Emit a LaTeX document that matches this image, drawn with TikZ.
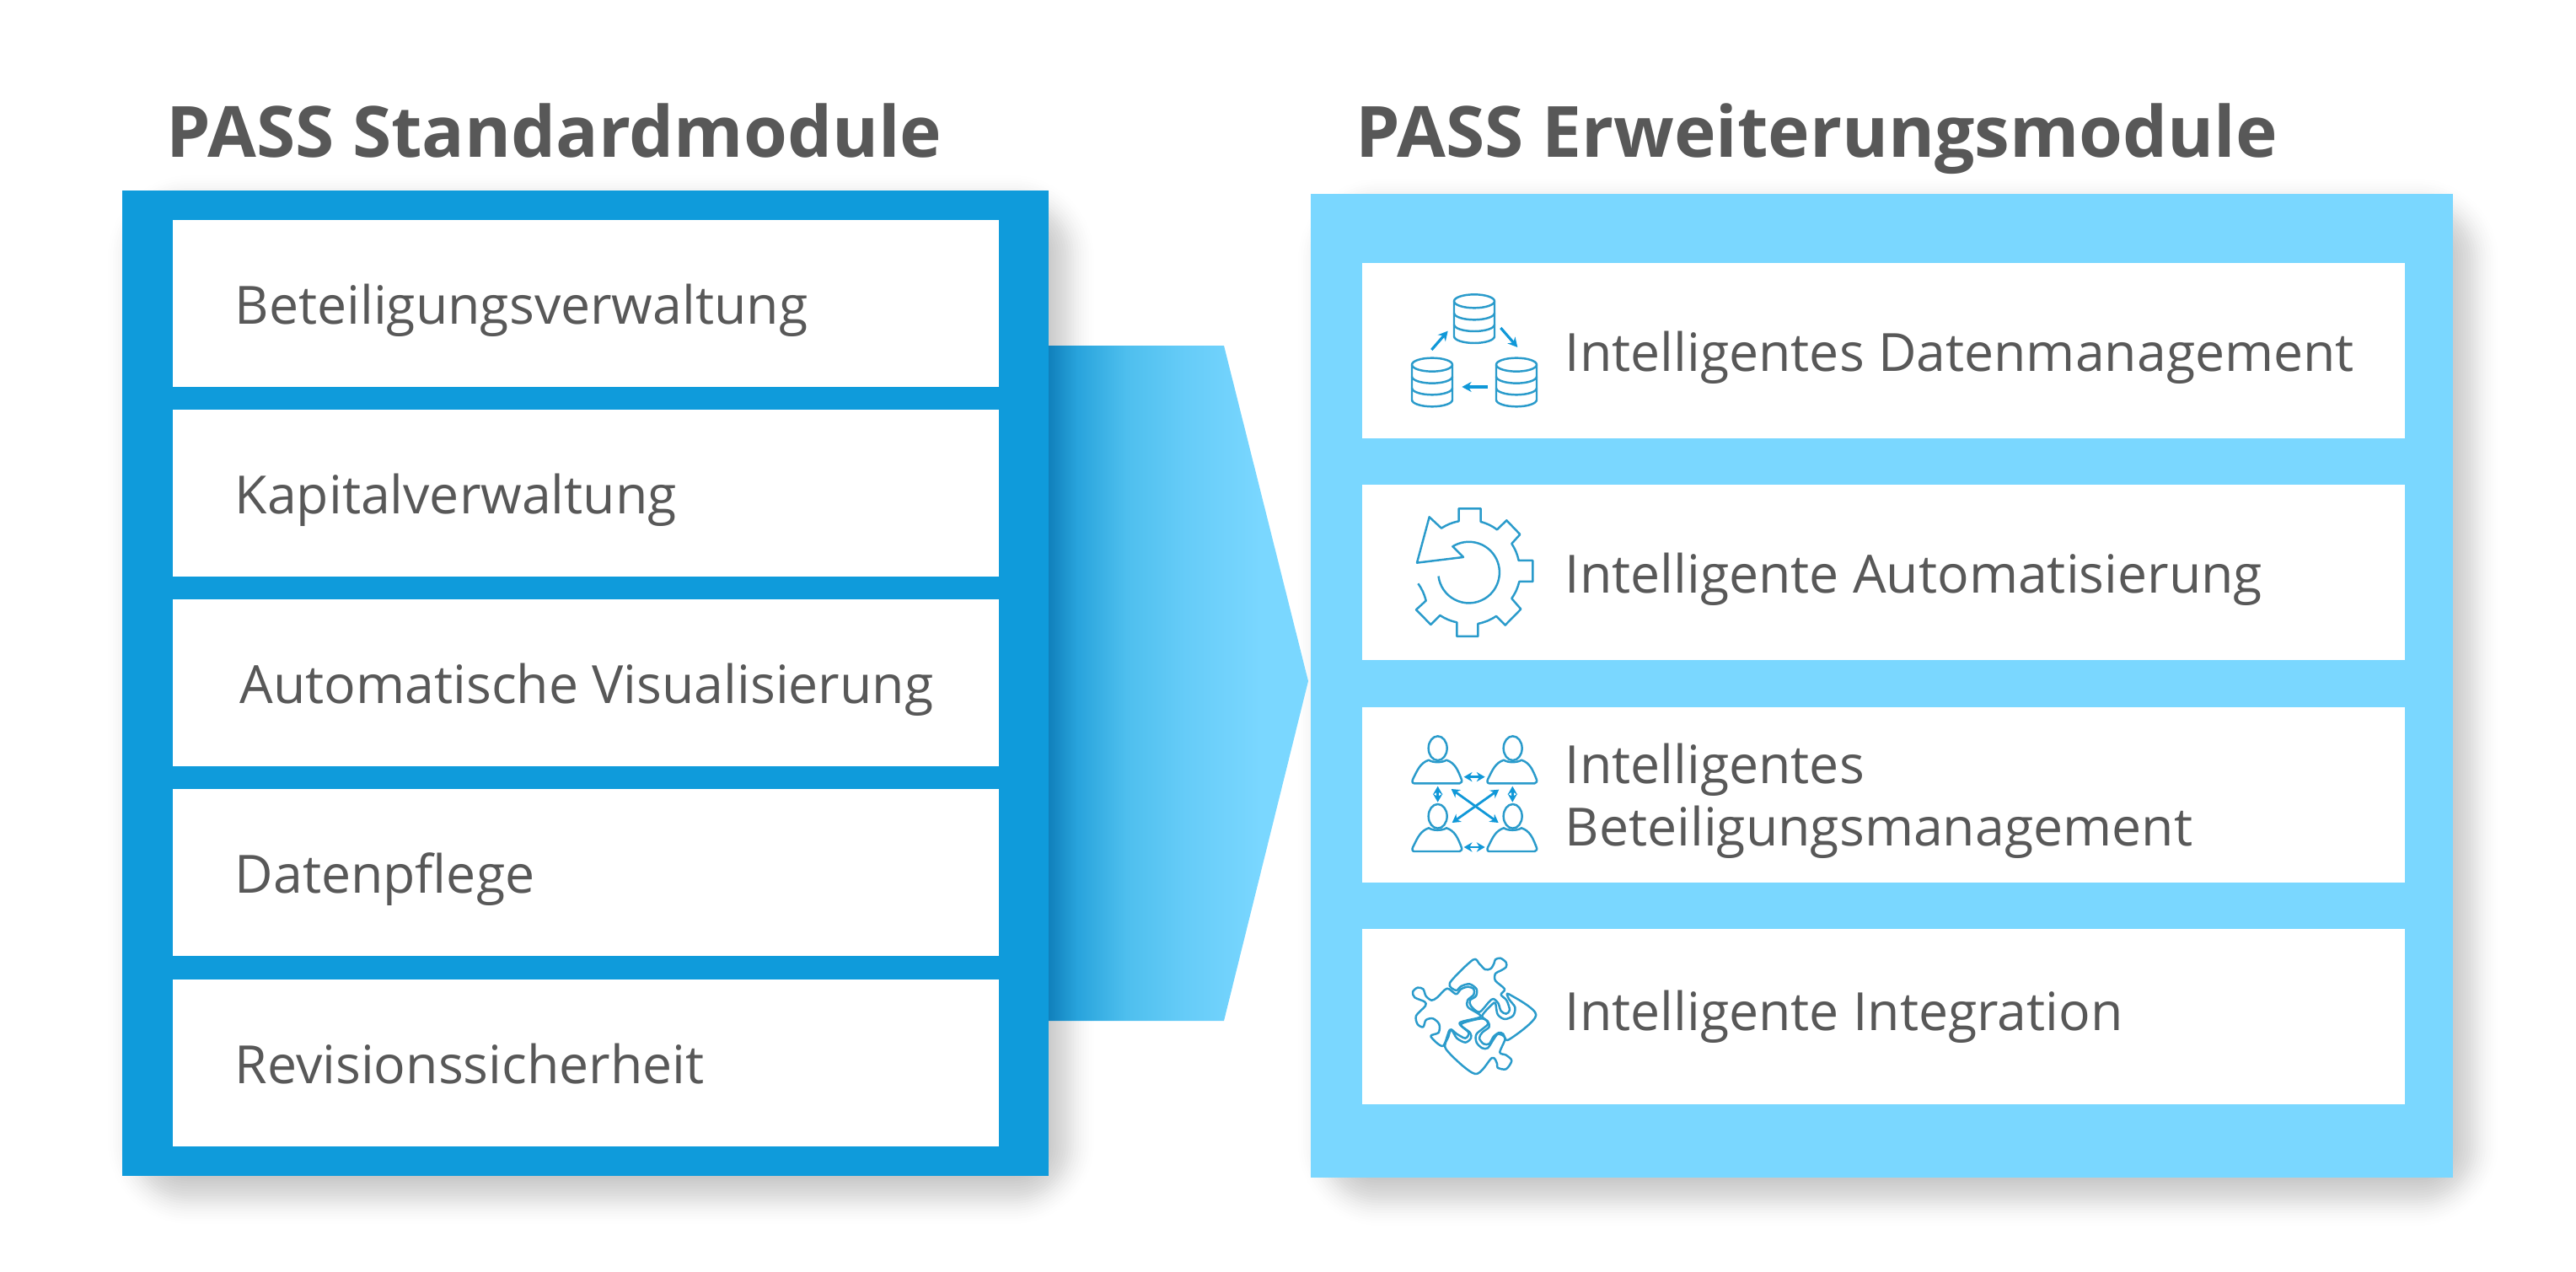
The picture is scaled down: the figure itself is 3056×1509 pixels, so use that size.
\documentclass[tikz,border=0pt]{standalone}
\usepackage{fontspec}
\setmainfont{Open Sans}
\usepackage{xcolor}
\usepackage{tikz}
\usetikzlibrary{arrows.meta}

\definecolor{passdark}{HTML}{0F9BDB}
\definecolor{passlight}{HTML}{7AD7FF}
\definecolor{passtext}{HTML}{585858}
\definecolor{passicon}{HTML}{2A9BCB}
\definecolor{passtip}{HTML}{1098D8}
\definecolor{passgrada}{HTML}{1080BB}
\definecolor{passgradb}{HTML}{28A3DC}
\definecolor{passgradc}{HTML}{4EBFEE}
\definecolor{passgradd}{HTML}{66CCF8}
\pgfdeclarehorizontalshading{passarrow}{100bp}{
  color(0bp)=(passgrada);
  color(25bp)=(passgrada);
  color(30.5bp)=(passgradb);
  color(40bp)=(passgradc);
  color(51.5bp)=(passgradd);
  color(66bp)=(passlight);
  color(100bp)=(passlight)}

\tikzset{
  title/.style={anchor=base west, text=passtext, font=\fontsize{23.85}{27}\selectfont\bfseries, inner sep=0pt},
  stdrow/.style={fill=white, minimum width=9.8cm, minimum height=1.975cm, inner sep=0pt},
  extrow/.style={fill=white, minimum width=12.37cm, minimum height=2.07cm, inner sep=0pt},
  rowtext/.style={anchor=base west, text=passtext, font=\fontsize{17.78}{21}\selectfont, inner sep=0pt, align=left},
  iconline/.style={draw=passicon, line width=0.7pt, line join=round},
  iconarrow/.style={draw=passtip, line width=0.9pt, -{Stealth[length=3.2pt,width=3.4pt]}},
  iconboth/.style={draw=passtip, line width=0.8pt, {Stealth[length=2.8pt,width=3.2pt]}-{Stealth[length=2.8pt,width=3.2pt]}}
}

\newcommand{\dbicon}[1]{
  \begin{scope}[shift={(#1)}]
    \draw[iconline] (0,0) ellipse [x radius=72, y radius=24];
    \draw[iconline] (-72,0) -- (-72,125) arc [start angle=180, end angle=0, x radius=72, y radius=24] -- (72,0);
    \draw[iconline] (-72,42) arc [start angle=180, end angle=0, x radius=72, y radius=24];
    \draw[iconline] (-72,83) arc [start angle=180, end angle=0, x radius=72, y radius=24];
  \end{scope}
}
\newcommand{\personicon}[1]{
  \begin{scope}[shift={(#1)}]
    \draw[iconline] (197,143) ellipse [x radius=33, y radius=43];
    \draw[iconline] (113,268) .. controls (105,268) and (105,258) .. (110,250)
      .. controls (125,220) and (135,195) .. (165,185)
      .. controls (180,195) and (212,195) .. (228,185)
      .. controls (258,195) and (268,220) .. (280,250)
      .. controls (285,260) and (282,268) .. (275,268) -- cycle;
  \end{scope}
}

\begin{document}
\begin{tikzpicture}[x=0.01cm, y=-0.01cm]
  \useasboundingbox (0,0) rectangle (3056,1509);

  % soft shadows of the two panels
  \foreach \r [evaluate=\r as \a using 0.016*(1-(\r/48)^2)] in {45,42,...,-45} {
    \fill[black, opacity=\a, rounded corners=\r*0.3pt+15pt] (170-\r,250-\r) rectangle (1256+\r,1410+\r);
    \fill[black, opacity=\a, rounded corners=\r*0.3pt+15pt] (1582-\r,254-\r) rectangle (2922+\r,1412+\r);
  }

  \fill[passdark] (145,226) rectangle (1244,1395);
  \fill[passlight] (1555,230) rectangle (2910,1397);

  % arrow between the panels
  \shade[shading=passarrow] (1244,410) -- (1452,410) -- (1552,808) -- (1452,1211) -- (1244,1211) -- cycle;

  \node[title] (stdtitle) at (197,186) {PASS Standardmodule};
  \node[title] (exttitle) at (1608,186) {PASS Erweiterungsmodule};

  \foreach \n/\y in {a/360,b/585,c/810,d/1035,e/1261}
    \node[stdrow] (std\n) at (695,\y) {};
  \foreach \n/\y in {a/416,b/679,c/943,d/1206}
    \node[extrow] (ext\n) at (2234.5,\y) {};

  \node[rowtext] (stdatxt) at (278,384) {Beteiligungsverwaltung};
  \node[rowtext] (stdbtxt) at (278,609) {Kapitalverwaltung};
  \node[rowtext] (stdctxt) at (284,834) {Automatische Visualisierung};
  \node[rowtext] (stddtxt) at (278,1059) {Datenpflege};
  \node[rowtext] (stdetxt) at (278,1285) {Revisionssicherheit};

  \node[rowtext] (extatxt) at (1856,440) {Intelligentes Datenmanagement};
  \node[rowtext] (extbtxt) at (1856,703) {Intelligente Automatisierung};
  \node[rowtext] (extctxt) at (1856,1003) {Intelligentes\\Beteiligungsmanagement};
  \node[rowtext] (extdtxt) at (1856,1222) {Intelligente Integration};

  % data icon, in the coordinates of a 3x crop
  \begin{scope}[shift={(1640,320)}, scale=0.3333]
    \dbicon{327,112}
    \dbicon{177,338}
    \dbicon{477,338}
    \draw[iconarrow] (175,285) -- (233,218);
    \draw[iconarrow] (421,207) -- (481,276);
    \draw[iconarrow] (374,417) -- (283,417);
  \end{scope}

  % gear icon
  \begin{scope}[shift={(1640,320)}, scale=0.3333]
    \draw[iconline] (127,1117) to[bend left=10] (155,1178) -- (120,1210) -- (172,1263) -- (205,1230)
      to[bend right=10] (265,1255) -- (265,1305) -- (340,1305) -- (340,1260)
      to[bend right=10] (405,1233) -- (437,1265) -- (493,1208) -- (460,1170)
      to[bend right=10] (487,1110) -- (535,1110) -- (535,1035) -- (485,1035)
      to[bend right=10] (460,975) -- (490,942) -- (442,892) -- (408,925)
      to[bend right=10] (350,897) -- (350,850) -- (272,850) -- (272,895)
      to[bend right=10] (210,920) -- (167,880) -- (123,1043) -- (288,1023) -- (250,985)
      arc [start angle=-122, end angle=173, radius=109];
  \end{scope}

  % people icon
  \begin{scope}[shift={(1640,840)}, scale=0.3333]
    \personicon{0,0}
    \personicon{267,0}
    \personicon{0,242}
    \personicon{267,242}
    \draw[iconboth] (290,245) -- (365,245);
    \draw[iconboth] (290,495) -- (365,495);
    \draw[iconboth] (197,278) -- (197,335);
    \draw[iconboth] (463,278) -- (463,335);
    \draw[iconboth] (245,288) -- (413,408);
    \draw[iconboth] (415,290) -- (248,408);
  \end{scope}

  % puzzle icon
  \begin{scope}[shift={(1670,1130)}, scale=0.3333]
    \draw[iconline] plot[smooth cycle, tension=0.5] coordinates {(150,108) (232,26) (255,40) (275,60) (295,58) (307,40) (312,25) (330,20) (350,35) (350,52) (330,65) (312,75) (312,100) (345,130) (332,150) (352,170) (363,205) (350,218) (332,208) (322,180) (305,165) (290,175) (255,212) (225,190) (222,170) (243,155) (245,130) (220,112) (190,120) (172,135)};
    \draw[iconline] plot[smooth cycle, tension=0.5] coordinates {(360,148) (457,222) (360,310) (340,290) (325,285) (305,300) (290,325) (270,325) (255,305) (265,285) (290,265) (285,245) (265,225) (300,185) (312,180) (320,220) (345,237) (375,225) (382,195) (360,165)};
    \draw[iconline] plot[smooth cycle, tension=0.5] coordinates {(140,128) (105,160) (85,170) (65,155) (55,130) (35,125) (18,140) (25,160) (60,175) (63,190) (30,225) (35,255) (55,265) (65,240) (90,235) (112,255) (110,285) (82,298) (125,333) (150,275) (175,290) (205,305) (217,285) (185,250) (260,228) (215,195) (213,170) (235,150) (235,130) (215,122) (190,130) (172,148)};
    \draw[iconline] plot[smooth cycle, tension=0.5] coordinates {(137,345) (240,432) (300,375) (318,395) (320,410) (350,415) (370,385) (350,365) (328,355) (347,305) (322,290) (305,310) (285,340) (265,340) (245,320) (245,290) (285,255) (265,235) (190,255) (222,285) (225,305) (205,320) (175,305) (155,275) (145,300)};
  \end{scope}
\end{tikzpicture}
\end{document}
